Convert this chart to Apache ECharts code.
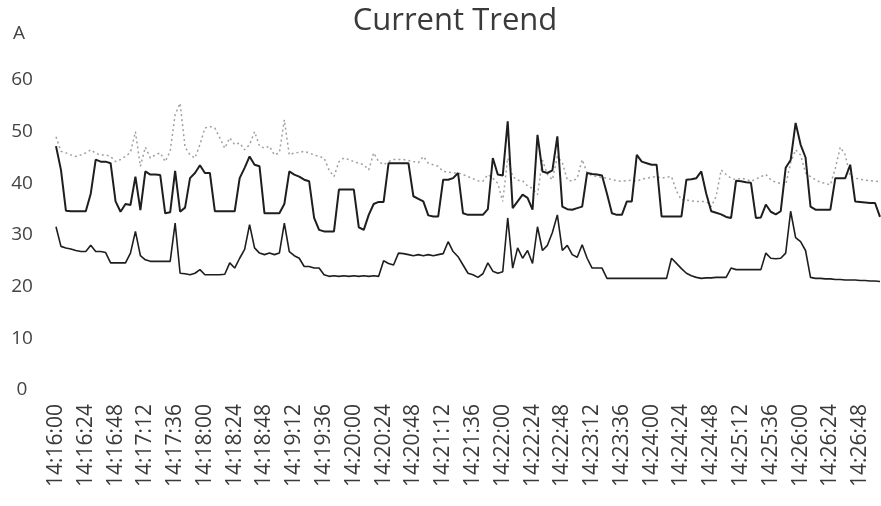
<!DOCTYPE html>
<html>
<head>
<meta charset="utf-8">
<title>Current Trend</title>
<script src="https://cdn.jsdelivr.net/npm/echarts@6/dist/echarts.min.js"></script>
<style>
  html, body { margin: 0; padding: 0; background: #fff; }
  #chart { width: 881px; height: 506px; }
</style>
</head>
<body>
<div id="chart"></div>
<script>
// samples every 4 s starting 14:16:00
const startTime = '14:16:00'
const stepSeconds = 4
const labelEvery = 6 // one tick label per 24 s

// square-wave phase current (solid, dark)
const phaseA = [
  47.2, 42.6, 34.7, 34.6, 34.6, 34.6, 34.6, 38.0, 44.6, 44.2,
  44.2, 43.9, 36.5, 34.5, 36.0, 35.8, 41.3, 34.8, 42.3, 41.7,
  41.7, 41.6, 34.2, 34.4, 42.4, 34.5, 35.3, 41.0, 42.0, 43.5,
  42.0, 42.0, 34.6, 34.6, 34.6, 34.6, 34.6, 41.0, 43.0, 45.2,
  43.6, 43.3, 34.2, 34.2, 34.2, 34.2, 36.0, 42.3, 41.7, 41.3,
  40.7, 40.4, 33.3, 31.0, 30.7, 30.7, 30.7, 38.8, 38.8, 38.8,
  38.8, 31.5, 31.0, 33.9, 36.0, 36.4, 36.4, 43.9, 43.9, 43.9,
  43.9, 43.9, 37.5, 37.0, 36.5, 33.8, 33.6, 33.6, 40.7, 40.7,
  41.0, 42.0, 34.2, 33.9, 33.9, 33.9, 33.9, 35.0, 44.9, 41.7,
  41.5, 52.0, 35.2, 36.5, 37.8, 37.2, 34.9, 49.4, 42.3, 42.0,
  42.5, 49.1, 35.5, 35.0, 34.9, 35.2, 35.5, 42.0, 41.8, 41.7,
  41.5, 38.0, 34.2, 33.9, 33.9, 36.5, 36.5, 45.5, 44.2, 43.9,
  43.6, 43.6, 33.6, 33.6, 33.6, 33.6, 33.6, 40.7, 40.8, 41.0,
  42.3, 38.0, 34.6, 34.3, 34.0, 33.5, 33.3, 40.5, 40.4, 40.2,
  40.1, 33.3, 33.4, 35.9, 34.5, 34.0, 34.6, 43.0, 44.5, 51.7,
  47.5, 45.0, 35.5, 34.9, 34.9, 34.9, 34.9, 41.0, 41.0, 41.0,
  43.6, 36.5, 36.4, 36.3, 36.2, 36.2, 33.5
]

// noisy phase current (dotted, grey)
const phaseB = [
  49.0, 46.2, 45.9, 45.5, 45.2, 45.5, 45.9, 46.5, 45.8, 45.5,
  45.5, 45.2, 44.2, 44.6, 45.2, 46.0, 50.0, 43.3, 47.0, 44.9,
  45.5, 45.9, 44.2, 46.2, 53.3, 55.5, 47.0, 45.5, 44.9, 47.5,
  50.7, 51.0, 50.7, 48.8, 46.8, 48.8, 47.5, 47.8, 46.5, 47.5,
  50.0, 47.2, 46.8, 47.2, 45.5, 45.9, 52.3, 45.5, 45.9, 46.0,
  46.2, 45.9, 45.5, 45.2, 44.9, 42.6, 41.3, 44.2, 44.9, 44.6,
  44.2, 43.9, 43.6, 42.6, 45.9, 44.2, 43.6, 44.2, 44.6, 44.6,
  44.6, 44.4, 44.2, 44.0, 45.2, 43.9, 43.6, 43.3, 42.3, 42.2,
  42.0, 42.0, 41.7, 41.3, 40.9, 40.5, 40.4, 41.7, 41.0, 40.0,
  36.5, 44.9, 41.3, 40.6, 40.5, 39.5, 39.0, 37.8, 44.5, 41.7,
  40.7, 45.2, 44.0, 40.7, 40.4, 41.0, 44.6, 42.0, 41.5, 41.3,
  41.1, 41.0, 40.7, 40.5, 40.4, 40.5, 40.6, 40.4, 40.8, 41.0,
  41.2, 41.3, 41.0, 41.2, 41.3, 38.5, 36.8, 36.8, 36.6, 36.5,
  36.5, 36.5, 35.5, 37.5, 42.6, 41.7, 41.0, 40.7, 41.0, 40.8,
  40.4, 40.8, 41.3, 41.7, 40.7, 40.2, 40.0, 39.7, 44.0, 46.5,
  45.5, 42.0, 41.3, 40.7, 40.2, 40.0, 39.7, 42.9, 47.0, 45.5,
  41.3, 41.0, 40.8, 40.6, 40.5, 40.4, 40.3
]

// lower phase current (solid, dark)
const phaseC = [
  31.6, 27.8, 27.5, 27.3, 27.0, 26.8, 26.8, 28.0, 26.8, 26.8,
  26.6, 24.6, 24.6, 24.6, 24.6, 26.5, 30.7, 26.0, 25.2, 24.9,
  24.9, 24.9, 24.9, 24.9, 32.3, 22.6, 22.5, 22.3, 22.6, 23.3,
  22.3, 22.3, 22.3, 22.3, 22.4, 24.6, 23.6, 25.5, 27.2, 32.0,
  27.5, 26.5, 26.2, 26.5, 26.2, 26.5, 32.3, 26.8, 26.0, 25.5,
  23.9, 23.9, 23.6, 23.6, 22.3, 22.0, 22.1, 22.0, 22.1, 22.0,
  22.1, 22.0, 22.1, 22.0, 22.1, 22.0, 25.0, 24.5, 24.2, 26.5,
  26.4, 26.2, 26.0, 26.2, 26.0, 26.2, 26.0, 26.2, 26.4, 28.7,
  26.8, 25.8, 24.2, 22.6, 22.3, 21.8, 22.5, 24.6, 23.0, 22.6,
  22.9, 33.3, 23.6, 27.5, 25.5, 27.0, 24.5, 31.6, 27.0, 28.0,
  30.5, 33.9, 27.0, 28.0, 26.2, 25.7, 28.1, 25.5, 23.6, 23.6,
  23.6, 21.6, 21.6, 21.6, 21.6, 21.6, 21.6, 21.6, 21.6, 21.6,
  21.6, 21.6, 21.6, 21.6, 25.5, 24.5, 23.5, 22.6, 22.1, 21.8,
  21.6, 21.7, 21.7, 21.8, 21.8, 21.8, 23.6, 23.3, 23.3, 23.3,
  23.3, 23.3, 23.3, 26.5, 25.5, 25.4, 25.5, 26.5, 34.6, 29.5,
  28.7, 27.0, 21.8, 21.6, 21.6, 21.5, 21.5, 21.4, 21.4, 21.3,
  21.3, 21.3, 21.2, 21.2, 21.1, 21.1, 21.0
]

const yTicks = [0, 10, 20, 30, 40, 50, 60]

function pad (n) {
  return n < 10 ? '0' + n : '' + n
}

// build the category labels hh:mm:ss
function buildTimes (start, step, count) {
  const parts = start.split(':').map(Number)
  let sec = parts[0] * 3600 + parts[1] * 60 + parts[2]
  const out = []
  for (let i = 0; i < count; i++) {
    const h = Math.floor(sec / 3600)
    const m = Math.floor((sec % 3600) / 60)
    const s = sec % 60
    out.push(h + ':' + pad(m) + ':' + pad(s))
    sec += step
  }
  return out
}

const times = buildTimes(startTime, stepSeconds, phaseA.length)
const fontName = '"Open Sans", "Liberation Sans", sans-serif'

const chart = echarts.init(document.getElementById('chart'))

const option = {
  backgroundColor: '#fff',
  animation: false,
  title: {
    text: 'Current Trend',
    left: 450,
    textAlign: 'center',
    top: 1,
    textStyle: {
      fontFamily: fontName,
      fontSize: 31,
      fontWeight: 'normal',
      color: '#3a3a3a'
    }
  },
  graphic: [
    {
      type: 'text',
      left: 13,
      top: 24,
      style: {
        text: 'A',
        font: '19px ' + fontName,
        fill: '#444'
      }
    }
  ],
  grid: {
    left: 56,
    right: 1,
    top: 80,
    bottom: 116
  },
  xAxis: {
    type: 'category',
    data: times,
    boundaryGap: false,
    axisLine: { show: false },
    axisTick: { show: false },
    splitLine: { show: false },
    axisLabel: {
      interval: labelEvery - 1,
      rotate: 90,
      margin: 14,
      fontFamily: fontName,
      fontSize: 21,
      color: '#3a3a3a'
    }
  },
  yAxis: {
    type: 'value',
    min: yTicks[0],
    max: yTicks[yTicks.length - 1],
    interval: yTicks[1] - yTicks[0],
    axisLine: { show: false },
    axisTick: { show: false },
    splitLine: { show: false },
    axisLabel: {
      margin: 34,
      align: 'center',
      fontFamily: fontName,
      fontSize: 19,
      color: '#444'
    }
  },
  series: [
    {
      name: 'B',
      type: 'line',
      data: phaseB,
      symbol: 'none',
      lineStyle: { color: '#a0a0a0', width: 1.5, type: [2, 3] },
      z: 1
    },
    {
      name: 'A',
      type: 'line',
      data: phaseA,
      symbol: 'none',
      lineStyle: { color: '#1e1e1e', width: 2 },
      z: 2
    },
    {
      name: 'C',
      type: 'line',
      data: phaseC,
      symbol: 'none',
      lineStyle: { color: '#1e1e1e', width: 1.6 },
      z: 2
    }
  ]
}

chart.setOption(option)
</script>
</body>
</html>
